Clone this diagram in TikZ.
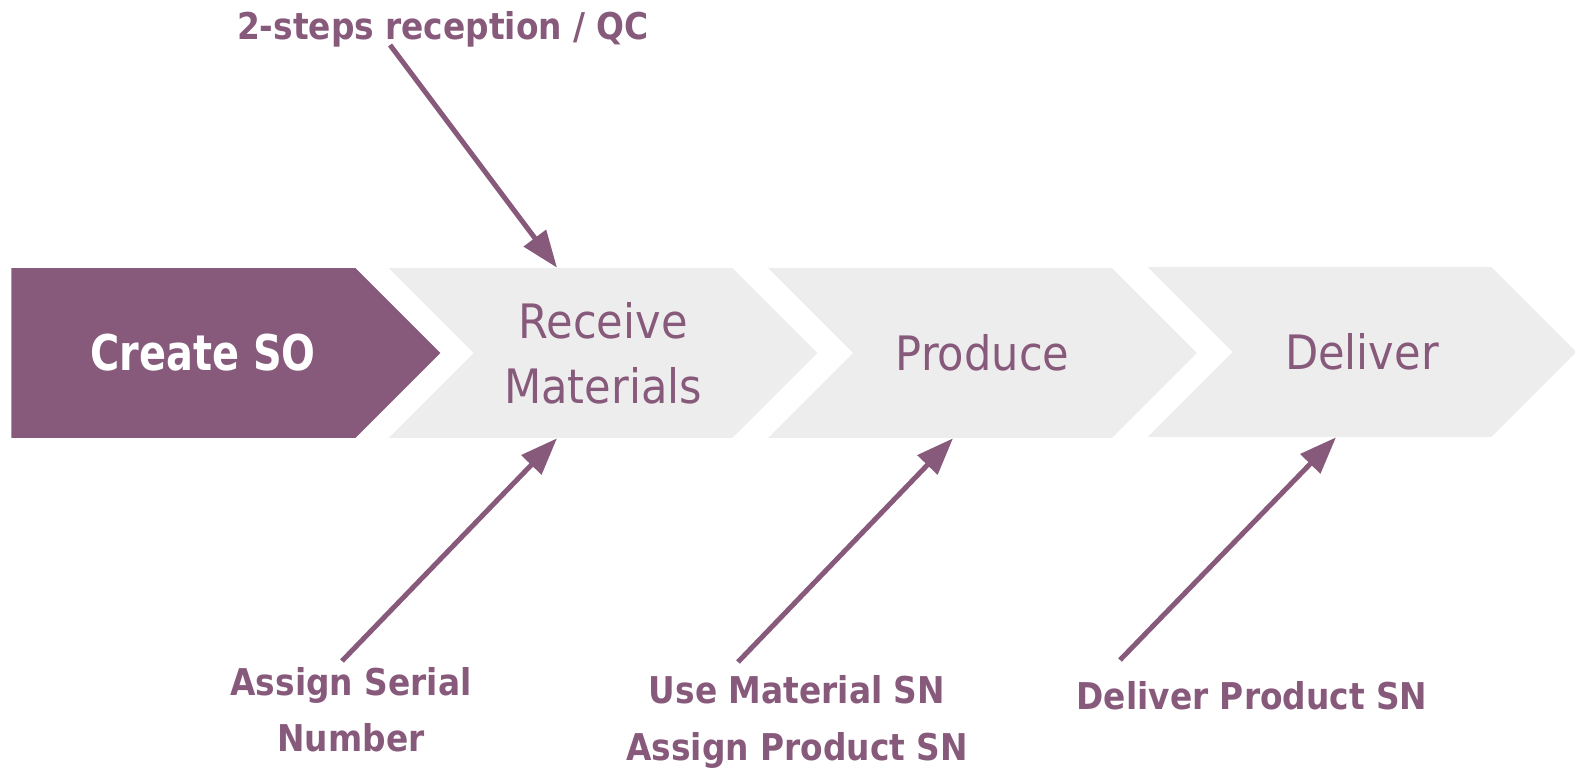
\documentclass[tikz,border=0pt]{standalone}
\usepackage{fontspec}
\setmainfont{DejaVu Sans}
\newfontfamily\stagefont[FakeStretch=0.91]{DejaVu Sans}
\newfontfamily\createfont[FakeStretch=0.81]{DejaVu Sans}
\newfontfamily\notefont[FakeStretch=0.89]{DejaVu Sans}
\usetikzlibrary{positioning,arrows.meta,shapes.symbols}
\definecolor{odoopurple}{HTML}{875A7B}
\definecolor{stepgray}{HTML}{EDEDED}

\begin{document}
\begin{tikzpicture}[
    x=0.02cm, y=-0.02cm,
    stage/.style={signal, signal to=east, signal from=west,
                  signal pointer angle=90, minimum width=8.58cm,
                  minimum height=3.4cm, inner sep=0pt, fill=stepgray,
                  text=odoopurple, align=center,
                  font=\stagefont\fontsize{27}{37}\selectfont},
    firststage/.style={stage, signal from=nowhere, fill=odoopurple,
                       minimum width=8.58cm},
    arrow/.style={-{Triangle[length=0.74cm, width=0.54cm]},
                  line width=0.1cm, color=odoopurple},
    note/.style={font=\notefont\fontsize{21}{32}\selectfont\bfseries,
                 text=odoopurple, align=center},
]
\useasboundingbox (0,0) rectangle (1575,770);

% process chevrons
\node[firststage, anchor=west] (create) at (11,353) {};
\node[font=\createfont\fontsize{28}{32}\selectfont\bfseries, text=white]
    (createtxt) at ([xshift=3.84cm]create.west) {Create SO};
\node[stage] (receive) at (603,353) {Receive\\Materials};
\node[stage] (produce) at (982.5,353) {Produce};
\node[stage] (deliver) at (1362,352) {Deliver};

% annotations
\node[note] (qc) at (443,29) {2-steps reception / QC};
\node[note] (serial) at (351,710) {Assign Serial\\Number};
\node[note] (usesn) at (797,722) {Use Material SN\\Assign Product SN};
\node[note] (delsn) at (1252,696) {Deliver Product SN};

% arrow ends
\coordinate (qcstart) at (390,45);
\coordinate (serialstart) at (342,661);
\coordinate (usesnstart) at (738,662);
\coordinate (delsnstart) at (1120,660);

\draw[arrow] (qcstart) -- (receive.north -| 557,0);
\draw[arrow] (serialstart) -- (receive.south -| 557,0);
\draw[arrow] (usesnstart) -- (produce.south -| 953,0);
\draw[arrow] (delsnstart) -- (deliver.south -| 1336,0);

\end{tikzpicture}
\end{document}
